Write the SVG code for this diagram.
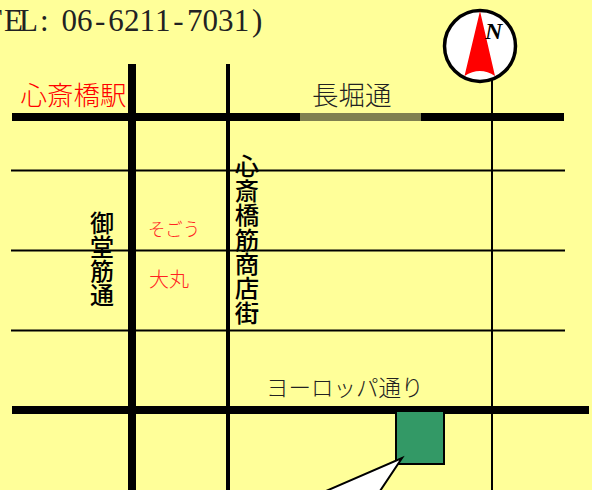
<svg xmlns="http://www.w3.org/2000/svg" width="592" height="490" viewBox="0 0 592 490">
<style>
.jp{font-family:"Noto Sans CJK JP",sans-serif;font-weight:300}
.lab{fill:#222}
.red{fill:#f00}
.small{fill:#f22}
.v{fill:#000;writing-mode:vertical-rl;font-weight:500}
.w8{stroke:#000;stroke-width:8}
.w3{stroke:#000;stroke-width:2}
</style>
<rect width="592" height="490" fill="#ffff99"/>
<g id="connectors" fill="none">
<path class="w3" d="M11 170.500H565M11 250.500H565M11 330.500H565"/>
<path class="w8" d="M12 117H564M12 410H589"/>
<path d="M300 117H421" stroke="#808050" stroke-width="8"/>
<path class="w8" d="M132 64V490"/>
<path d="M228 64V490" stroke="#000" stroke-width="4"/>
<path class="w3" d="M492 80V490"/>
</g>
<g id="tel"><text y="31" font-family="Liberation Serif,serif" font-size="31" fill="#222" x="-17 4 19 40 61.500 77.100 95 108.300 123.900 139.500 155.100 173.300 186.900 202.500 218.100 233.700 252">TEL:06-6211-7031)</text></g>
<g id="station"><text class="jp red" x="20.500" y="105" font-size="26.500">心斎橋駅</text></g>
<g id="nagahori"><text class="jp lab" x="312" y="105" font-size="26.500">長堀通</text></g>
<g id="europe"><text class="jp lab" x="266" y="396" font-size="22.500">ヨーロッパ通り</text></g>
<g id="midosuji"><text class="jp v" x="102" y="211" font-size="24">御堂筋通</text></g>
<g id="shinsaibashisuji"><text class="jp v" x="247" y="154" font-size="24.400">心斎橋筋商店街</text></g>
<g id="sogo"><text class="jp small" x="148" y="236" font-size="18" textLength="52" lengthAdjust="spacingAndGlyphs">そごう</text></g>
<g id="daimaru"><text class="jp small" x="149" y="287" font-size="20">大丸</text></g>
<g id="compass">
<circle cx="480" cy="46" r="35.500" fill="#fff" stroke="#000" stroke-width="3.500"/>
<path d="M480 11L464.500 76Q480 66 495 76Z" fill="#f00"/>
<text x="485" y="39" font-family="Liberation Serif,serif" font-size="24" font-weight="700" font-style="italic" fill="#000">N</text>
</g>
<g id="shop"><rect x="396" y="411" width="48" height="53" fill="#339966" stroke="#000" stroke-width="2"/></g>
<g id="callout"><path d="M326 491L402 458L380 491" fill="#fff" stroke="#000" stroke-width="2"/></g>
</svg>
